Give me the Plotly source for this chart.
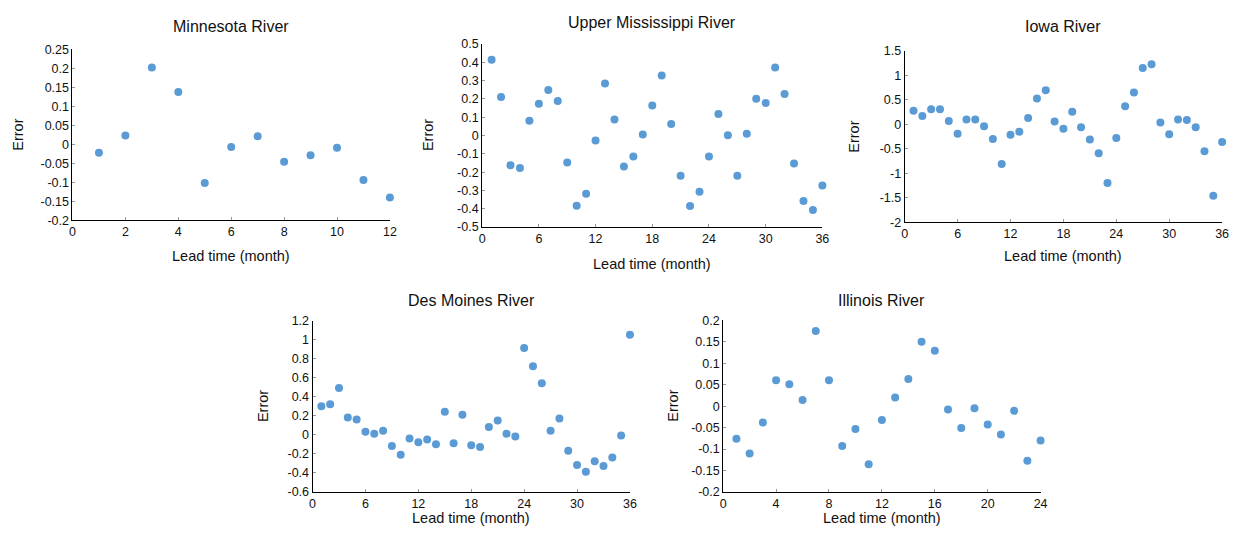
import plotly.graph_objects as go

W, H = 1251, 534          # browser window
PAD = 8                   # default body margin of the page
FW, FH = W - 2 * PAD, H - 2 * PAD   # figure size so the page fits the window exactly

titles = ["Minnesota River", "Upper Mississippi River", "Iowa River", "Des Moines River", "Illinois River"]

minnesota = [-0.022, 0.023, 0.202, 0.138, -0.102, -0.007, 0.021, -0.046, -0.029, -0.009, -0.094, -0.140]
upper_miss = [0.413, 0.210, -0.162, -0.178, 0.081, 0.174, 0.249, 0.188, -0.148, -0.383, -0.318, -0.027,
              0.284, 0.088, -0.169, -0.114, 0.006, 0.164, 0.328, 0.063, -0.219, -0.385, -0.307, -0.114,
              0.118, 0.001, -0.220, 0.010, 0.201, 0.177, 0.371, 0.227, -0.153, -0.357, -0.406, -0.273]
iowa = [0.28, 0.17, 0.31, 0.31, 0.07, -0.19, 0.10, 0.10, -0.04, -0.30, -0.81, -0.21,
        -0.15, 0.13, 0.53, 0.70, 0.06, -0.09, 0.26, -0.06, -0.31, -0.59, -1.20, -0.28,
        0.37, 0.65, 1.15, 1.23, 0.04, -0.20, 0.10, 0.09, -0.06, -0.55, -1.46, -0.36]
des_moines = [0.30, 0.32, 0.49, 0.18, 0.16, 0.03, 0.01, 0.04, -0.12, -0.21, -0.04, -0.08,
              -0.05, -0.10, 0.24, -0.09, 0.21, -0.11, -0.13, 0.08, 0.15, 0.01, -0.02, 0.91,
              0.72, 0.54, 0.04, 0.17, -0.17, -0.32, -0.39, -0.28, -0.33, -0.24, -0.01, 1.05]
illinois = [-0.076, -0.110, -0.038, 0.060, 0.051, 0.014, 0.175, 0.060, -0.093, -0.053, -0.135, -0.032,
            0.020, 0.063, 0.150, 0.129, -0.008, -0.051, -0.005, -0.043, -0.066, -0.011, -0.127, -0.080]

series = [minnesota, upper_miss, iowa, des_moines, illinois]

x_ranges = [[0, 12], [0, 36], [0, 36], [0, 36], [0, 24]]
x_dticks = [2, 6, 6, 6, 4]
y_ranges = [[-0.2, 0.25], [-0.5, 0.5], [-2, 1.5], [-0.6, 1.2], [-0.2, 0.2]]
y_dticks = [0.05, 0.1, 0.5, 0.2, 0.05]

# window-pixel boxes (left, right, top, bottom)
boxes = [(70, 390, 43.3, 219), (483, 826, 37.7, 226), (909, 1229, 45, 221),
         (312, 632, 322, 498), (726, 1046, 321.7, 498.3)]
title_y = [20, 16, 20, 301, 301]
xtitle_y = [256, 264, 256, 525, 525]
ytitle_x = [15, 428, 857, 262, 676]


def fx(px):
    return (px - PAD) / FW


def fy(py):
    return 1 - (py - PAD) / FH


FONT = "Liberation Sans, Arial, Helvetica, sans-serif"
COLOR = "#5b9bd5"
TXT = "#111111"

fig = go.Figure()
layout = dict(width=FW, height=FH, margin=dict(l=0, r=0, t=0, b=0),
              paper_bgcolor="white", plot_bgcolor="white", showlegend=False,
              font=dict(family=FONT, size=12, color=TXT))
annotations = []


def tickfmt(v):
    s = ("%.2f" % v).rstrip("0").rstrip(".")
    if s == "-0":
        s = "0"
    return s


for i, ys in enumerate(series):
    n = i + 1
    xs = list(range(1, len(ys) + 1))
    fig.add_trace(go.Scatter(x=xs, y=ys, mode="markers", cliponaxis=False,
                             marker=dict(color=COLOR, size=8, line=dict(width=0)),
                             xaxis="x" if n == 1 else f"x{n}", yaxis="y" if n == 1 else f"y{n}"))
    l, r, t, b = boxes[i]
    xk = "xaxis" if n == 1 else f"xaxis{n}"
    yk = "yaxis" if n == 1 else f"yaxis{n}"
    y0, y1 = y_ranges[i]
    nt = int(round((y1 - y0) / y_dticks[i]))
    tv = [y0 + k * y_dticks[i] for k in range(nt + 1)]
    layout[xk] = dict(domain=[fx(l), fx(r)], range=x_ranges[i], dtick=x_dticks[i], tick0=0,
                      anchor="y" if n == 1 else f"y{n}", showgrid=False, zeroline=False,
                      showline=True, linecolor="black", linewidth=1,
                      ticks="inside", ticklen=3, tickcolor="#999",
                      tickfont=dict(size=12.5, family=FONT, color=TXT))
    layout[yk] = dict(domain=[fy(b), fy(t)], range=[y0, y1],
                      tickvals=tv, ticktext=[tickfmt(v) for v in tv],
                      anchor="x" if n == 1 else f"x{n}", showgrid=False, zeroline=False,
                      showline=True, linecolor="black", linewidth=1,
                      ticks="inside", ticklen=3, tickcolor="#999",
                      tickfont=dict(size=12.5, family=FONT, color=TXT))
    annotations.append(dict(text=titles[i], x=fx((l + r) / 2), y=fy(title_y[i]),
                            xref="paper", yref="paper", showarrow=False,
                            xanchor="center", yanchor="middle",
                            font=dict(size=16, family=FONT, color=TXT)))
    annotations.append(dict(text="Lead time (month)", x=fx((l + r) / 2), y=fy(xtitle_y[i]),
                            xref="paper", yref="paper", showarrow=False,
                            xanchor="center", yanchor="middle",
                            font=dict(size=14.5, family=FONT, color=TXT)))
    annotations.append(dict(text="Error", x=fx(ytitle_x[i]), y=fy((t + b) / 2),
                            xref="paper", yref="paper", showarrow=False, textangle=-90,
                            xanchor="center", yanchor="middle",
                            font=dict(size=14.5, family=FONT, color=TXT)))

layout["annotations"] = annotations
fig.update_layout(**layout)
fig.write_html("out.html", config={"displayModeBar": False})
